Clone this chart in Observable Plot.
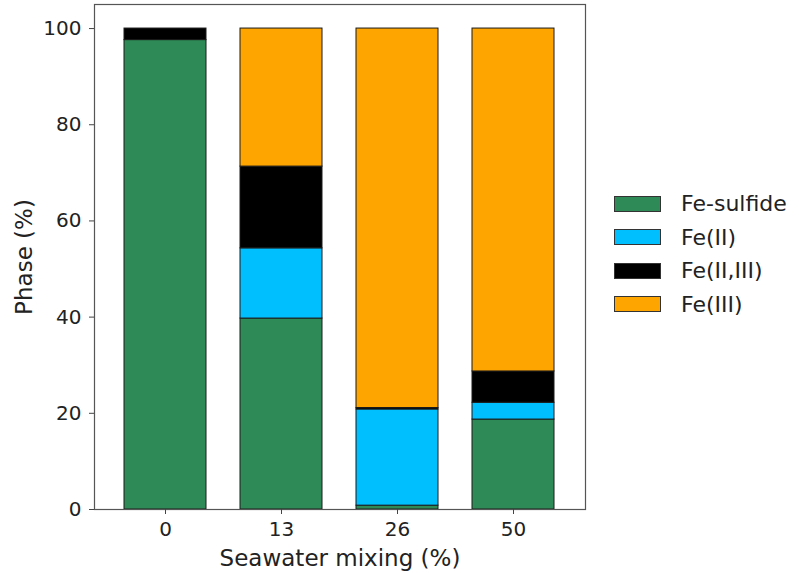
<!DOCTYPE html>
<html>
<head>
<meta charset="utf-8">
<script src="https://cdn.jsdelivr.net/npm/d3@7"></script>
<script src="https://cdn.jsdelivr.net/npm/@observablehq/plot@0.6"></script>
<style>
  html, body { margin: 0; padding: 0; background: #fff; }
  #wrap { position: relative; width: 799px; height: 573px; font-family: "DejaVu Sans", sans-serif; }
  #wrap svg { font-family: "DejaVu Sans", sans-serif; }
  g[aria-label="y-axis tick label"] text, g[aria-label="x-axis tick label"] text { font-size: 20px; fill: #222; }
  g[aria-label="y-axis label"] text, g[aria-label="x-axis label"] text { font-size: 23px; fill: #222; }
  #legend { position: absolute; left: 614px; top: 187px; color: #222; font-size: 22px; }
  .item { display: flex; align-items: center; height: 33.5px; }
  .sw { width: 47px; height: 16px; border: 1px solid #333; margin-right: 20px; box-sizing: border-box; }
</style>
</head>
<body>
<div id="wrap"></div>
<script>
const mixing = ["0", "13", "26", "50"];
const series = ["Fe-sulfide", "Fe(II)", "Fe(II,III)", "Fe(III)"];
const colors = ["#2e8b57", "#00bfff", "#000000", "#ffa500"];
const feSulfide = [97.6, 39.7, 0.8, 18.7];
const feII = [0, 14.6, 20.0, 3.5];
const feIIIII = [2.4, 17.0, 0.3, 6.5];
const feIII = [0, 28.7, 78.9, 71.3];
const yTicks = [0, 20, 40, 60, 80, 100];

const valuesBySeries = [feSulfide, feII, feIIIII, feIII];
const data = [];
series.forEach((s, si) => {
  mixing.forEach((m, mi) => {
    data.push({ mixing: m, series: s, value: valuesBySeries[si][mi] });
  });
});

const chart = Plot.plot({
  width: 799,
  height: 573,
  marginLeft: 94,
  marginRight: 214,
  marginTop: 4,
  marginBottom: 64,
  style: { fontFamily: "DejaVu Sans, sans-serif", background: "#fff" },
  x: { domain: mixing, paddingInner: 0.289, paddingOuter: 0.244 },
  y: { domain: [0, 105] },
  color: { domain: series, range: colors },
  marks: [
    Plot.barY(data, Plot.stackY({
      x: "mixing", y: "value", fill: "series", order: series,
      stroke: "#1a1a1a", strokeWidth: 1
    })),
    Plot.frame({ stroke: "#555", strokeWidth: 1.2 }),
    Plot.axisY({ ticks: yTicks, tickSize: 5, tickPadding: 8, label: "Phase (%)", labelAnchor: "center", labelArrow: "none", labelOffset: 79, stroke: "#444" }),
    Plot.axisX({ tickSize: 5, tickPadding: 7, label: "Seawater mixing (%)", labelAnchor: "center", labelArrow: "none", labelOffset: 56, stroke: "#444" })
  ]
});
const wrap = document.getElementById("wrap");
wrap.appendChild(chart);

const legend = document.createElement("div");
legend.id = "legend";
series.forEach((s, i) => {
  const it = document.createElement("div");
  it.className = "item";
  const sw = document.createElement("span");
  sw.className = "sw";
  sw.style.background = colors[i];
  const tx = document.createElement("span");
  tx.textContent = s;
  it.appendChild(sw);
  it.appendChild(tx);
  legend.appendChild(it);
});
wrap.appendChild(legend);
</script>
</body>
</html>
